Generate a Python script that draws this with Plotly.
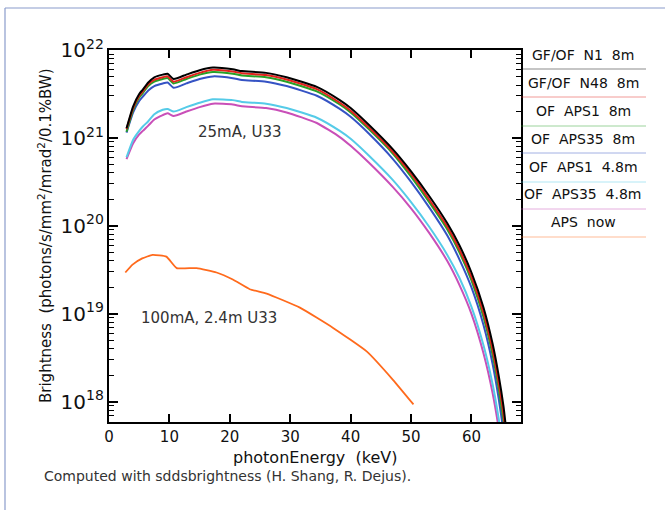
import plotly.graph_objects as go

# ---------------- data (log10 brightness) ----------------
energy_25mA = [2.9, 4.0, 5.0, 5.6, 6.5, 7.5, 8.9, 9.7, 10.7, 12.8, 15.0, 17.2, 20.5, 22.0,
               26.0, 29.4, 34.4, 38.2, 40.0, 43.0, 47.0, 50.0, 53.0, 56.0, 58.0, 60.0,
               62.0, 63.5, 64.5, 65.3, 65.8]

log_gf_n1_8m = [21.11, 21.36, 21.50, 21.55, 21.63, 21.69, 21.72, 21.73, 21.67, 21.72, 21.77,
                21.80, 21.78, 21.76, 21.74, 21.69, 21.58, 21.43,
                21.34, 21.15, 20.87, 20.62, 20.34, 20.03, 19.78, 19.47, 19.07, 18.66, 18.30,
                17.95, 17.65]
log_gf_n48_8m = [21.10, 21.34, 21.48, 21.53, 21.61, 21.66, 21.69, 21.70, 21.64, 21.69, 21.74,
                 21.775, 21.755, 21.735, 21.715, 21.665, 21.555, 21.40,
                 21.31, 21.12, 20.84, 20.59, 20.30, 19.99, 19.73, 19.42, 19.01, 18.59, 18.22,
                 17.86, 17.55]
log_of_aps1_8m = [21.07, 21.32, 21.46, 21.51, 21.59, 21.64, 21.67, 21.68, 21.62, 21.67, 21.72,
                  21.75, 21.73, 21.71, 21.69, 21.64, 21.53, 21.38,
                  21.29, 21.10, 20.82, 20.56, 20.27, 19.96, 19.70, 19.38, 18.96, 18.53, 18.15,
                  17.78, 17.47]
log_of_aps35_8m = [21.06, 21.29, 21.42, 21.47, 21.54, 21.59, 21.62, 21.63, 21.57, 21.62, 21.67,
                   21.70, 21.68, 21.66, 21.64, 21.59, 21.48, 21.33,
                   21.24, 21.05, 20.76, 20.50, 20.21, 19.89, 19.62, 19.30, 18.87, 18.43, 18.04,
                   17.66, 17.35]
log_of_aps1_48m = [20.78, 20.98, 21.08, 21.13, 21.19, 21.27, 21.32, 21.33, 21.30, 21.35, 21.40,
                   21.44, 21.43, 21.41, 21.39, 21.34, 21.23, 21.08,
                   20.99, 20.80, 20.52, 20.27, 19.99, 19.67, 19.41, 19.08, 18.64, 18.20, 17.81,
                   17.42, 17.10]
log_of_aps35_48m = [20.76, 20.94, 21.04, 21.08, 21.14, 21.21, 21.26, 21.28, 21.25, 21.30, 21.35,
                    21.39, 21.38, 21.36, 21.34, 21.29, 21.17, 21.01,
                    20.91, 20.72, 20.44, 20.20, 19.92, 19.60, 19.33, 19.00, 18.55, 18.10, 17.70,
                    17.30, 16.98]

energy_aps_now = [2.7, 3.9, 5.5, 7.2, 9.5, 11.2, 14.5, 17.8, 20.5, 23.3, 26.1, 31.6, 37.1,
                  42.7, 47.0, 50.4]
log_aps_now = [19.47, 19.56, 19.63, 19.67, 19.65, 19.52, 19.52, 19.47, 19.39, 19.28, 19.23,
               19.07, 18.84, 18.57, 18.25, 17.97]

series_names = ["GF/OF\u00a0\u00a0N1\u00a0\u00a08m", "GF/OF\u00a0\u00a0N48\u00a0\u00a08m",
                "OF\u00a0\u00a0APS1\u00a0\u00a08m", "OF\u00a0\u00a0APS35\u00a0\u00a08m",
                "OF\u00a0\u00a0APS1\u00a0\u00a04.8m", "OF\u00a0\u00a0APS35\u00a0\u00a04.8m",
                "APS\u00a0\u00a0now"]
series_colors = ["#000000", "#e3221c", "#27a127", "#3553c4", "#55cbe8", "#c94fb8", "#ff6a1c"]

x_ticks = [0, 10, 20, 30, 40, 50, 60]

# ---------------- figure ----------------
W, H = 665, 510
L, R, T, B = 109, 521, 50, 422

fig = go.Figure()
curves = [log_gf_n1_8m, log_gf_n48_8m, log_of_aps1_8m, log_of_aps35_8m,
          log_of_aps1_48m, log_of_aps35_48m]
order = [5, 4, 3, 2, 1, 0]
for i in order:
    fig.add_trace(go.Scatter(
        x=energy_25mA, y=[10 ** v for v in curves[i]], mode="lines",
        line=dict(color=series_colors[i], width=2, shape="spline", smoothing=0.5),
        name=series_names[i], showlegend=False))
fig.add_trace(go.Scatter(
    x=energy_aps_now, y=[10 ** v for v in log_aps_now], mode="lines",
    line=dict(color=series_colors[6], width=1.8, shape="spline", smoothing=0.4),
    name=series_names[6], showlegend=False))

def px(x):
    return (x - L) / (R - L)

def py(y):
    return (B - y) / (B - T)

font_main = "DejaVu Sans"

annotations = []
legend_text_y = [55, 83, 111, 139, 167, 194, 222]
legend_line_y = [69, 97, 126, 153, 182, 209, 237]
shapes = []
for name, ty, ly, col in zip(series_names, legend_text_y, legend_line_y, series_colors):
    annotations.append(dict(text=name, x=px(583), y=py(ty), xref="paper", yref="paper",
                            showarrow=False, xanchor="center", yanchor="middle",
                            font=dict(family=font_main, size=14, color="#111111")))
    shapes.append(dict(type="line", xref="paper", yref="paper", x0=1.0, x1=px(646),
                       y0=py(ly), y1=py(ly), line=dict(color=col, width=1), opacity=0.45))

# outer border (left and top)
shapes.append(dict(type="line", xref="paper", yref="paper", x0=px(5), x1=px(5),
                   y0=py(8), y1=py(512), line=dict(color="#8a9ccc", width=1.2)))
shapes.append(dict(type="line", xref="paper", yref="paper", x0=px(5), x1=px(668),
                   y0=py(8), y1=py(8), line=dict(color="#8a9ccc", width=1.2)))

annotations += [
    dict(text="25mA, U33", x=px(240), y=py(132), xref="paper", yref="paper",
         xanchor="center", yanchor="middle", showarrow=False,
         font=dict(family=font_main, size=15, color="#333333")),
    dict(text="100mA, 2.4m U33", x=px(209), y=py(318), xref="paper", yref="paper",
         xanchor="center", yanchor="middle", showarrow=False,
         font=dict(family=font_main, size=15, color="#333333")),
    dict(text="Brightness\u00a0\u00a0(photons/s/mm<sup>2</sup>/mrad<sup>2</sup>/0.1%BW)",
         x=px(45), y=0.5, xref="paper", yref="paper", textangle=-90, showarrow=False,
         xanchor="center", yanchor="middle",
         font=dict(family=font_main, size=15, color="#111111")),
    dict(text="photonEnergy\u00a0\u00a0(keV)", x=0.5, y=py(458), xref="paper", yref="paper",
         xanchor="center", yanchor="middle", showarrow=False,
         font=dict(family=font_main, size=16, color="#111111")),
    dict(text="Computed with sddsbrightness (H. Shang, R. Dejus).", x=px(42), y=py(476),
         xref="paper", yref="paper", xanchor="left", yanchor="middle", showarrow=False,
         font=dict(family=font_main, size=14, color="#333333")),
]

fig.update_layout(
    width=W, height=H,
    margin=dict(l=L, r=W - R, t=T, b=H - B),
    paper_bgcolor="white", plot_bgcolor="white",
    shapes=shapes, annotations=annotations,
    xaxis=dict(range=[0, 68.2], tickmode="array", tickvals=x_ticks,
               ticktext=[str(v) for v in x_ticks],
               ticks="inside", ticklen=8, tickwidth=1.5, tickcolor="black",
               showline=True, linecolor="black", linewidth=2, mirror="allticks",
               showgrid=False, zeroline=False,
               tickfont=dict(family=font_main, size=15, color="#111111")),
    yaxis=dict(type="log", range=[17.77, 22.0], dtick=1, exponentformat="power",
               ticks="inside", ticklen=9, tickwidth=1.5, tickcolor="black",
               minor=dict(ticks="inside", ticklen=5, tickwidth=1.2, tickcolor="black",
                          dtick="D1", showgrid=False),
               showline=True, linecolor="black", linewidth=2, mirror="allticks",
               showgrid=False, zeroline=False,
               tickfont=dict(family=font_main, size=16, color="#111111")),
)

fig.write_html("out.html")
